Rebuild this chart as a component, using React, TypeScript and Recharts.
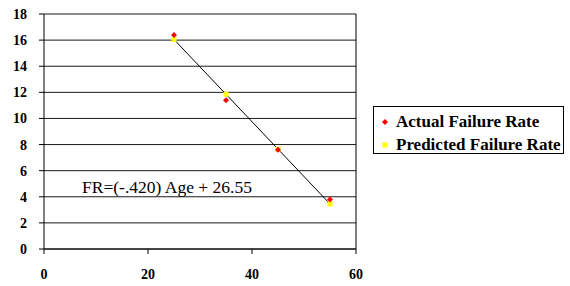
import {
  CartesianGrid,
  ReferenceLine,
  Scatter,
  ScatterChart,
  XAxis,
  YAxis,
} from "recharts";

const ages = [25, 35, 45, 55];
const actualRates = [16.4, 11.4, 7.6, 3.8];
const predictedRates = [16.05, 11.85, 7.65, 3.45];
const xTicks = [0, 20, 40, 60];
const yTicks = [0, 2, 4, 6, 8, 10, 12, 14, 16, 18];

const actualData = ages.map((age, i) => ({ age, rate: actualRates[i] }));
const predictedData = ages.map((age, i) => ({ age, rate: predictedRates[i] }));

const serif = "'Times New Roman', Times, serif";

const Diamond = (props: any) => {
  const { cx, cy } = props;
  return (
    <polygon
      points={`${cx},${cy - 3} ${cx + 3},${cy} ${cx},${cy + 3} ${cx - 3},${cy}`}
      fill="#ff0000"
    />
  );
};

const Square = (props: any) => {
  const { cx, cy } = props;
  return <rect x={cx - 2.5} y={cy - 2.5} width={5} height={5} fill="#ffff00" />;
};

const XTick = (props: any) => {
  const { x, y, payload } = props;
  return (
    <text x={x} y={y + 23} textAnchor="middle" fill="#000" fontFamily={serif} fontWeight={700} fontSize={14}>
      {payload.value}
    </text>
  );
};

const YTick = (props: any) => {
  const { x, y, payload } = props;
  return (
    <text x={x - 10} y={y + 5} textAnchor="end" fill="#000" fontFamily={serif} fontWeight={700} fontSize={14}>
      {payload.value}
    </text>
  );
};

export default function App() {
  return (
    <div style={{ position: "absolute", left: 0, top: 0, width: 570, height: 286, background: "#fff" }}>
      <ScatterChart width={570} height={286} margin={{ top: 14, right: 214, bottom: 7, left: 10 }}>
        <CartesianGrid vertical={false} stroke="#000" strokeOpacity={0.9} />
        <XAxis
          type="number"
          dataKey="age"
          domain={[0, 60]}
          ticks={xTicks}
          height={30}
          tickSize={5}
          stroke="#000"
          tick={<XTick />}
        />
        <YAxis
          type="number"
          dataKey="rate"
          domain={[0, 18]}
          ticks={yTicks}
          width={34}
          tickSize={5}
          stroke="#000"
          tick={<YTick />}
        />
        <ReferenceLine x={60} stroke="#000" />
        <Scatter
          name="Predicted Failure Rate"
          data={predictedData}
          line={{ stroke: "#000", strokeWidth: 1 }}
          shape={<Square />}
          isAnimationActive={false}
        />
        <Scatter
          name="Actual Failure Rate"
          data={actualData}
          shape={<Diamond />}
          isAnimationActive={false}
        />
      </ScatterChart>
      <div
        style={{
          position: "absolute",
          left: 82,
          top: 176,
          fontFamily: serif,
          fontSize: 17.5,
          lineHeight: "22px",
          color: "#000",
          whiteSpace: "nowrap",
        }}
      >
        FR=(-.420) Age + 26.55
      </div>
      <div
        style={{
          position: "absolute",
          left: 373,
          top: 106,
          width: 191,
          height: 48,
          border: "1px solid #000",
          boxSizing: "border-box",
          fontFamily: serif,
          fontWeight: 700,
          fontSize: 17,
          color: "#000",
          padding: "3px 0 0 7px",
          lineHeight: "23px",
          whiteSpace: "nowrap",
        }}
      >
        <div style={{ display: "flex", alignItems: "center" }}>
          <svg width={15} height={10}>
            <polygon points="4,2 7,5 4,8 1,5" fill="#ff0000" />
          </svg>
          <span>Actual Failure Rate</span>
        </div>
        <div style={{ display: "flex", alignItems: "center" }}>
          <svg width={15} height={10}>
            <rect x={1.5} y={2.5} width={5} height={5} fill="#ffff00" />
          </svg>
          <span>Predicted Failure Rate</span>
        </div>
      </div>
    </div>
  );
}
